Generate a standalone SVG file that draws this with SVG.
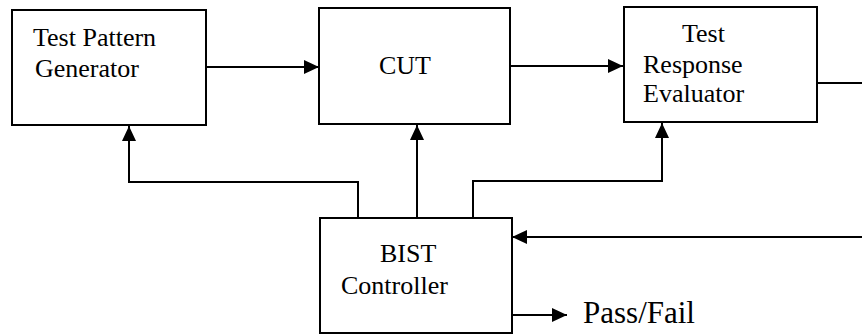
<svg xmlns="http://www.w3.org/2000/svg" width="862" height="334" viewBox="0 0 862 334">
<style>
.box{fill:#fff;stroke:#000;stroke-width:2}
.lbl{font-family:"Liberation Serif","Times New Roman",serif;font-size:26px;fill:#000}
.conn{fill:none;stroke:#000;stroke-width:2}
</style>
<defs>
<marker id="arr" markerUnits="userSpaceOnUse" markerWidth="15" markerHeight="14" refX="15" refY="7" orient="auto">
<path d="M0,0 L15,7 L0,14 Z" fill="#000"/>
</marker>
</defs>
<rect width="862" height="334" fill="#fff"/>
<g id="connectors">
<line class="conn" x1="206" y1="67" x2="319" y2="67" marker-end="url(#arr)"/>
<line class="conn" x1="510" y1="66" x2="623" y2="66" marker-end="url(#arr)"/>
<polyline class="conn" points="817,83 862,83"/>
<line class="conn" x1="862" y1="237" x2="512" y2="237" marker-end="url(#arr)"/>
<polyline class="conn" points="358,218 358,182 129,182 129,126" marker-end="url(#arr)"/>
<line class="conn" x1="417" y1="218" x2="417" y2="125" marker-end="url(#arr)"/>
<polyline class="conn" points="473,218 473,181 662,181 662,123" marker-end="url(#arr)"/>
<line class="conn" x1="512" y1="315" x2="567" y2="315" marker-end="url(#arr)"/>
</g>
<g id="tpg">
<rect class="box" x="12" y="10" width="194" height="115"/>
<text class="lbl" x="33" y="46">Test Pattern</text>
<text class="lbl" x="35" y="77">Generator</text>
</g>
<g id="cut">
<rect class="box" x="319" y="8" width="191" height="116"/>
<text class="lbl" x="379" y="74">CUT</text>
</g>
<g id="tre">
<rect class="box" x="624" y="7" width="193" height="115"/>
<text class="lbl" x="682" y="42">Test</text>
<text class="lbl" x="643" y="73">Response</text>
<text class="lbl" x="643" y="102">Evaluator</text>
</g>
<g id="bist">
<rect class="box" x="320" y="218" width="192" height="115"/>
<text class="lbl" x="380" y="262">BIST</text>
<text class="lbl" x="341" y="294">Controller</text>
</g>
<g id="passfail">
<text class="lbl" x="583" y="323" style="font-size:31px">Pass/Fail</text>
</g>
</svg>
